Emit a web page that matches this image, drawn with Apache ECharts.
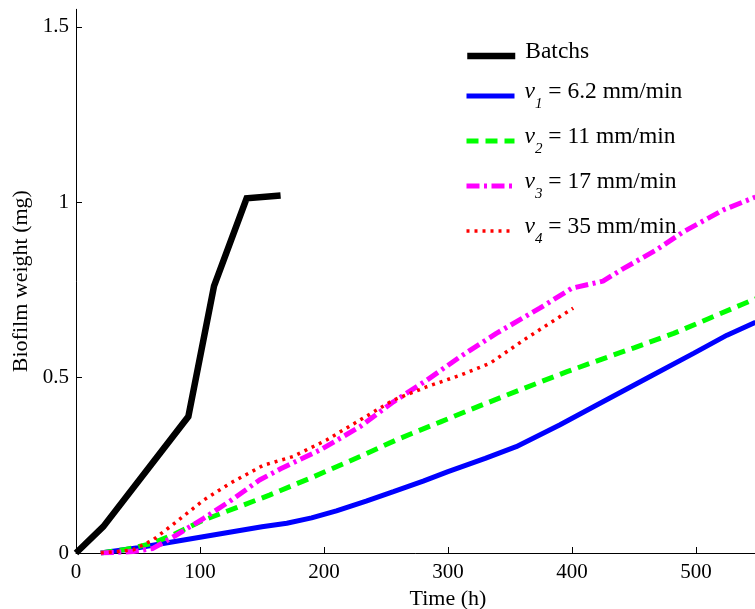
<!DOCTYPE html>
<html>
<head>
<meta charset="utf-8">
<script src="https://cdn.jsdelivr.net/npm/echarts@6/dist/echarts.min.js"></script>
<style>html,body{margin:0;padding:0;background:#fff}#c{width:755px;height:609px}</style>
</head>
<body>
<div id="c"></div>
<script>
// Data (time in h, biofilm weight in mg)
const batchData = [[0,0],[22,0.075],[90.6,0.389],[111.3,0.761],[137.6,1.011],[165,1.019]];
const v1Data = [[20,0],[50,0.015],[75,0.03],[100,0.045],[125,0.06],[150,0.075],[170,0.085],[190,0.1],[210,0.12],[234,0.148],[256,0.175],[280,0.205],[300,0.232],[330,0.27],[355,0.303],[390,0.365],[420,0.422],[463,0.503],[498,0.569],[525,0.621],[548,0.658]];
const v2Data = [[20,0],[40,0.01],[62,0.028],[80,0.055],[103,0.094],[130,0.13],[156,0.165],[190,0.215],[229,0.275],[260,0.325],[294,0.374],[326,0.42],[358,0.465],[396,0.517],[422,0.55],[450,0.585],[482,0.626],[510,0.668],[538,0.71],[548,0.725]];
const v3Data = [[20,0],[46,0.004],[62,0.013],[81,0.051],[103,0.099],[125,0.15],[148,0.208],[165,0.24],[197,0.294],[229,0.36],[256,0.431],[283,0.493],[310,0.56],[339,0.626],[374,0.698],[400,0.755],[425,0.775],[441,0.81],[468,0.864],[490,0.916],[522,0.978],[548,1.015]];
const v4Data = [[20,0],[46,0.009],[62,0.037],[81,0.089],[103,0.151],[125,0.2],[151,0.25],[175,0.275],[202,0.322],[229,0.379],[256,0.436],[283,0.474],[310,0.507],[334,0.541],[361,0.607],[382,0.655],[401,0.698]];
const batchNames = ['Batchs'];
const flowNames = ['v1','v2','v3','v4'];
const legendLabels = {
  'Batchs': '{h| }{m|Batchs}',
  'v1': '{h| }{i|v}{s|1}{m| = 6.2 mm/min}',
  'v2': '{h| }{i|v}{s|2}{m| = 11 mm/min}',
  'v3': '{h| }{i|v}{s|3}{m| = 17 mm/min}',
  'v4': '{h| }{i|v}{s|4}{m| = 35 mm/min}'
};
const xTicks = [0,100,200,300,400,500,600];
const yTicks = [0,0.5,1,1.5];

const FONT = 'Liberation Serif';
const legendText = {
  color: '#000', fontFamily: FONT, fontSize: 23.5,
  rich: {
    h: { width: 5, fontSize: 1, lineHeight: 32 },
    m: { fontFamily: FONT, fontSize: 23.5, lineHeight: 21, verticalAlign: 'top', color: '#000' },
    i: { fontFamily: FONT, fontSize: 23.5, fontStyle: 'italic', lineHeight: 21, verticalAlign: 'top', color: '#000' },
    s: { fontFamily: FONT, fontSize: 15, fontStyle: 'italic', lineHeight: 18, verticalAlign: 'bottom', color: '#000' }
  }
};
function makeLegend(names, top, gap) {
  return {
    orient: 'vertical', left: 464, top: top, padding: 0,
    itemWidth: 48, itemHeight: 14, itemGap: gap,
    selectedMode: false, data: names,
    formatter: function (name) { return legendLabels[name]; },
    lineStyle: { width: 'inherit', type: 'inherit' },
    itemStyle: { color: 'rgba(0,0,0,0)', borderWidth: 0, opacity: 0 },
    textStyle: legendText
  };
}
const chart = echarts.init(document.getElementById('c'), null, {renderer:'canvas'});
chart.setOption({
  animation: false,
  backgroundColor: '#fff',
  grid: { left: 76, right: -65, top: 9.3, bottom: 56, containLabel: false, outerBoundsMode: 'none' },
  xAxis: {
    type: 'value', min: 0, max: 600, interval: 100,
    name: 'Time (h)', nameLocation: 'middle', nameGap: 34,
    nameTextStyle: { fontFamily: FONT, fontSize: 22, color: '#000' },
    axisLine: { show: true, onZero: false, lineStyle: { color: '#000', width: 1 } },
    axisTick: { show: true, inside: true, length: 6, customValues: xTicks, lineStyle: { color: '#000' } },
    axisLabel: { fontFamily: FONT, fontSize: 21, color: '#000', margin: 9, customValues: xTicks },
    splitLine: { show: false }
  },
  yAxis: {
    type: 'value', min: 0, max: 1.55, interval: 0.5,
    name: 'Biofilm weight (mg)', nameLocation: 'middle', nameGap: 44,
    nameTextStyle: { fontFamily: FONT, fontSize: 22, color: '#000' },
    axisLine: { show: true, onZero: false, lineStyle: { color: '#000', width: 1 } },
    axisTick: { show: true, inside: true, length: 6, customValues: yTicks, lineStyle: { color: '#000' } },
    axisLabel: { fontFamily: FONT, fontSize: 21, color: '#000', margin: 7, customValues: yTicks },
    splitLine: { show: false }
  },
  legend: [ makeLegend(batchNames, 40, 12), makeLegend(flowNames, 80, 13) ],
  series: [
    { name: 'Batchs', type: 'line', data: batchData, showSymbol: false, symbol: 'none',
      lineStyle: { color: '#000000', width: 6.5, cap: 'butt', join: 'miter' }, itemStyle: { color: '#000000' } },
    { name: 'v1', type: 'line', data: v1Data, showSymbol: false, symbol: 'none',
      lineStyle: { color: '#0000ff', width: 5 }, itemStyle: { color: '#0000ff' } },
    { name: 'v2', type: 'line', data: v2Data, showSymbol: false, symbol: 'none',
      lineStyle: { color: '#00ff00', width: 5, type: [12, 7] }, itemStyle: { color: '#00ff00' } },
    { name: 'v3', type: 'line', data: v3Data, showSymbol: false, symbol: 'none',
      lineStyle: { color: '#ff00ff', width: 5, type: [13, 4.5, 3, 4.5] }, itemStyle: { color: '#ff00ff' } },
    { name: 'v4', type: 'line', data: v4Data, showSymbol: false, symbol: 'none',
      lineStyle: { color: '#ff0000', width: 3.5, type: [3, 5] }, itemStyle: { color: '#ff0000' } }
  ]
});
</script>
</body>
</html>
